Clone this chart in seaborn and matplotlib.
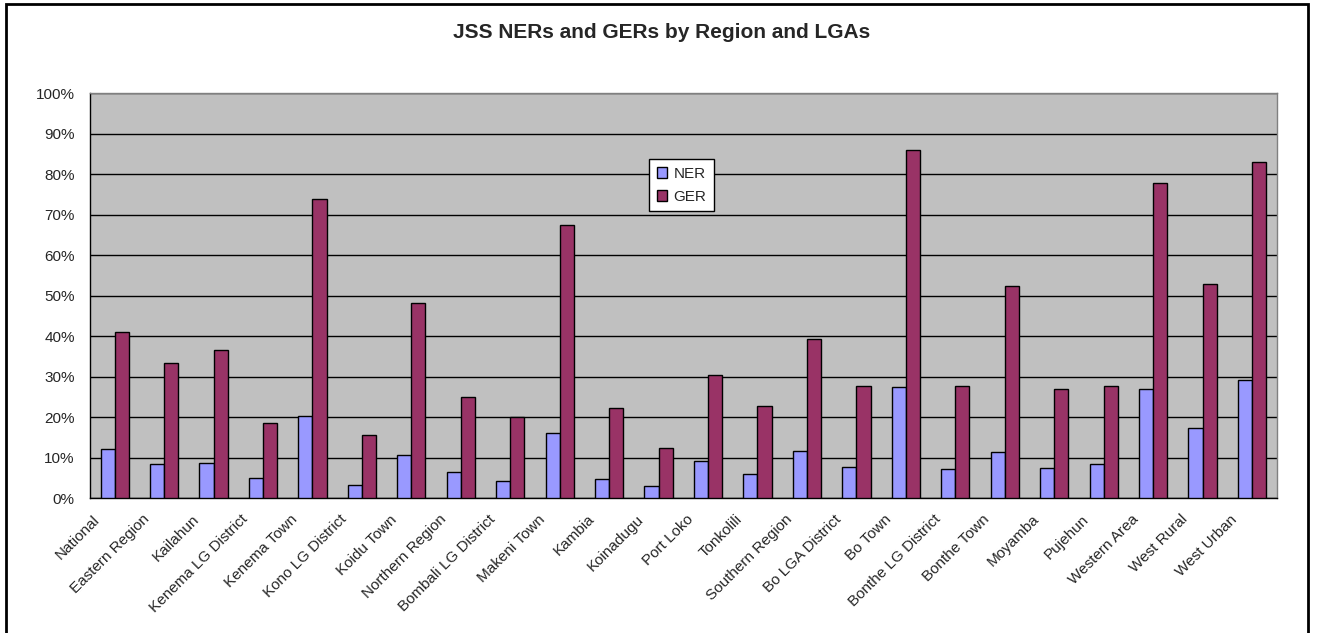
import matplotlib
matplotlib.use("Agg")
import matplotlib.pyplot as plt
import matplotlib.transforms as mtransforms
from matplotlib.patches import Rectangle, Patch
from matplotlib.ticker import FixedLocator, FuncFormatter
import seaborn as sns
import pandas as pd

# values (percent)
regions = ["National", "Eastern Region", "Kailahun", "Kenema LG District", "Kenema Town",
           "Kono LG District", "Koidu Town", "Northern Region", "Bombali LG District",
           "Makeni Town", "Kambia", "Koinadugu", "Port Loko", "Tonkolili", "Southern Region",
           "Bo LGA District", "Bo Town", "Bonthe LG District", "Bonthe Town", "Moyamba",
           "Pujehun", "Western Area", "West Rural", "West Urban"]
ner = [12.2, 8.5, 8.8, 5.1, 20.3, 3.4, 10.8, 6.4, 4.3, 16.0, 4.8, 3.0, 9.1, 6.1, 11.6,
       7.8, 27.5, 7.2, 11.5, 7.5, 8.5, 27.1, 17.3, 29.1]
ger = [41.0, 33.5, 36.6, 18.7, 74.0, 15.6, 48.1, 25.1, 20.0, 67.5, 22.4, 12.5, 30.5, 22.7,
       39.3, 27.8, 86.1, 27.8, 52.5, 27.1, 27.8, 77.9, 52.9, 83.1]
series = ["NER", "GER"]
colors = {"NER": "#9999FF", "GER": "#993366"}

df = pd.DataFrame({
    "Region": regions * 2,
    "Rate": ner + ger,
    "Series": ["NER"] * len(regions) + ["GER"] * len(regions),
})

sns.set_style("white")
plt.rcParams["font.family"] = ["Liberation Sans", "DejaVu Sans"]

fig = plt.figure(figsize=(13.17, 6.33), dpi=100)
ax = fig.add_axes([0.0683, 0.2128, 0.9011, 0.6398])
ax.set_facecolor("#C0C0C0")

sns.barplot(data=df, x="Region", y="Rate", hue="Series", hue_order=series,
            palette=colors, width=0.571, edgecolor="black", linewidth=1,
            saturation=1, ax=ax, legend=False, zorder=3)

ax.set_xlim(-0.5, len(regions) - 0.5)
ax.set_ylim(0, 100)
ax.set_yticks(range(0, 101, 10))
ax.yaxis.set_major_formatter(FuncFormatter(lambda v, p: f"{v:.0f}%"))
ax.yaxis.grid(True, color="black", linewidth=1, zorder=1)
ax.set_axisbelow(True)
ax.set_xlabel("")
ax.set_ylabel("")

# category labels: Excel puts the rotated text a bit left of the category centre
ax.set_xticks(range(len(regions)))
ax.set_xticklabels([])
shift = mtransforms.ScaledTranslation(-0.22, -0.14, fig.dpi_scale_trans)
for i, name in enumerate(regions):
    ax.text(i, 0, name, transform=ax.get_xaxis_transform() + shift,
            rotation=45, rotation_mode="anchor", ha="right", va="top", fontsize=11)

ax.xaxis.set_minor_locator(FixedLocator([i - 0.5 for i in range(len(regions) + 1)]))
ax.tick_params(axis="x", which="major", length=0)
ax.tick_params(axis="x", which="minor", length=5, width=1, color="black", direction="out")
ax.tick_params(axis="y", length=5, width=1, color="black", direction="out", labelsize=11, pad=6)

for side in ["left", "bottom"]:
    ax.spines[side].set_color("black")
    ax.spines[side].set_linewidth(1)
for side in ["top", "right"]:
    ax.spines[side].set_color("#808080")
    ax.spines[side].set_linewidth(1)

handles = [Patch(facecolor=colors[s], edgecolor="black", linewidth=1, label=s) for s in series]
leg = ax.legend(handles=handles, loc="upper left", bbox_to_anchor=(0.471, 0.838),
                frameon=True, fancybox=False, edgecolor="black", framealpha=1,
                fontsize=11, handlelength=0.7, handleheight=0.7, handletextpad=0.4,
                borderpad=0.5, labelspacing=0.6, borderaxespad=0)
leg.get_frame().set_linewidth(1)

fig.text(0.502, 0.949, "JSS NERs and GERs by Region and LGAs", ha="center", va="center",
         fontsize=15, fontweight="bold")

fig.patches.append(Rectangle((6 / 1317, -0.02), 1302 / 1317, 1.02 - 4 / 633,
                             transform=fig.transFigure, fill=False,
                             edgecolor="black", linewidth=2))

fig.savefig("out.png", dpi=100)
